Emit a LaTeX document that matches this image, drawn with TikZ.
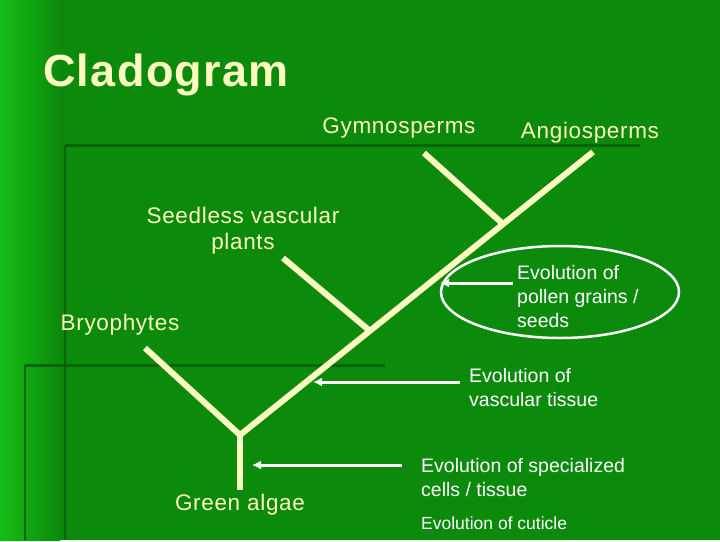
\documentclass[tikz,border=0pt]{standalone}
\usepackage{fontspec}
\setmainfont{Liberation Sans}
\definecolor{bg}{RGB}{12,138,12}
\definecolor{bgl}{RGB}{20,190,20}
\definecolor{dk}{RGB}{8,100,8}
\definecolor{yl}{RGB}{252,250,190}
\begin{document}
\begin{tikzpicture}[x=1pt,y=-1pt,
  br/.style={yl,line width=6pt},
  arr/.style={white,line width=3pt,-{Latex[length=9pt,width=9pt]}},
  lbl/.style={text=yl,font=\fontsize{22.5}{26}\selectfont\addfontfeature{LetterSpace=3},align=center,inner sep=0pt},
  ev/.style={text=white,font=\fontsize{19.5}{24}\selectfont,align=left,inner sep=0pt,anchor=west}]
\usetikzlibrary{arrows.meta}
\fill[bg] (0,0) rectangle (720,540);
\shade[left color=bgl,right color=bg] (0,0) rectangle (60,540);
\fill[bg] (60,0) rectangle (720,540);
\draw[dk,line width=3pt] (65,145) -- (640,145);
\draw[dk,line width=2pt] (65,145) -- (65,540);
\draw[dk,line width=3pt] (25,365) -- (385,365);
\draw[dk,line width=2pt] (25,365) -- (25,540);
\node[text=yl,font=\fontsize{45}{48}\selectfont\bfseries\addfontfeature{LetterSpace=3},anchor=west,inner sep=0pt] (t) at (43,75) {Cladogram};
\coordinate (root) at (240,435);
\coordinate (top) at (593,152);
\coordinate (alg) at (240,490);
\coordinate (bry) at (145,348);
\coordinate (j1) at (370,331);
\coordinate (sv) at (283,258);
\coordinate (j2) at (503,224);
\coordinate (gy) at (424,153);
\draw[br] (root) -- (top);
\draw[br] (root) -- (alg);
\draw[br] (bry) -- (root);
\draw[br] (sv) -- (j1);
\draw[br] (gy) -- (j2);
\node[lbl] (g) at (399,128) {Gymnosperms};
\node[lbl] (a) at (590,133) {Angiosperms};
\node[lbl] (s) at (243,231) {Seedless vascular\\plants};
\node[lbl] (b) at (120,325) {Bryophytes};
\node[lbl] (ga) at (240,505) {Green algae};
\draw[white,line width=2.5pt] (560,292) ellipse [x radius=119,y radius=46];
\node[ev] (e1) at (517,297) {Evolution of\\pollen grains /\\seeds};
\node[ev] (e2) at (469,388) {Evolution of\\vascular tissue};
\node[ev] (e3) at (421,478) {Evolution of specialized\\cells / tissue};
\node[ev,font=\fontsize{17.5}{20}\selectfont] (e4) at (421,523) {Evolution of cuticle};
\coordinate (p1) at (513,283); \coordinate (q1) at (440,283);
\coordinate (p2) at (460,382); \coordinate (q2) at (313,382);
\coordinate (p3) at (402,465); \coordinate (q3) at (252,465);
\draw[arr] (p1) -- (q1);
\draw[arr] (p2) -- (q2);
\draw[arr] (p3) -- (q3);
\end{tikzpicture}
\end{document}
